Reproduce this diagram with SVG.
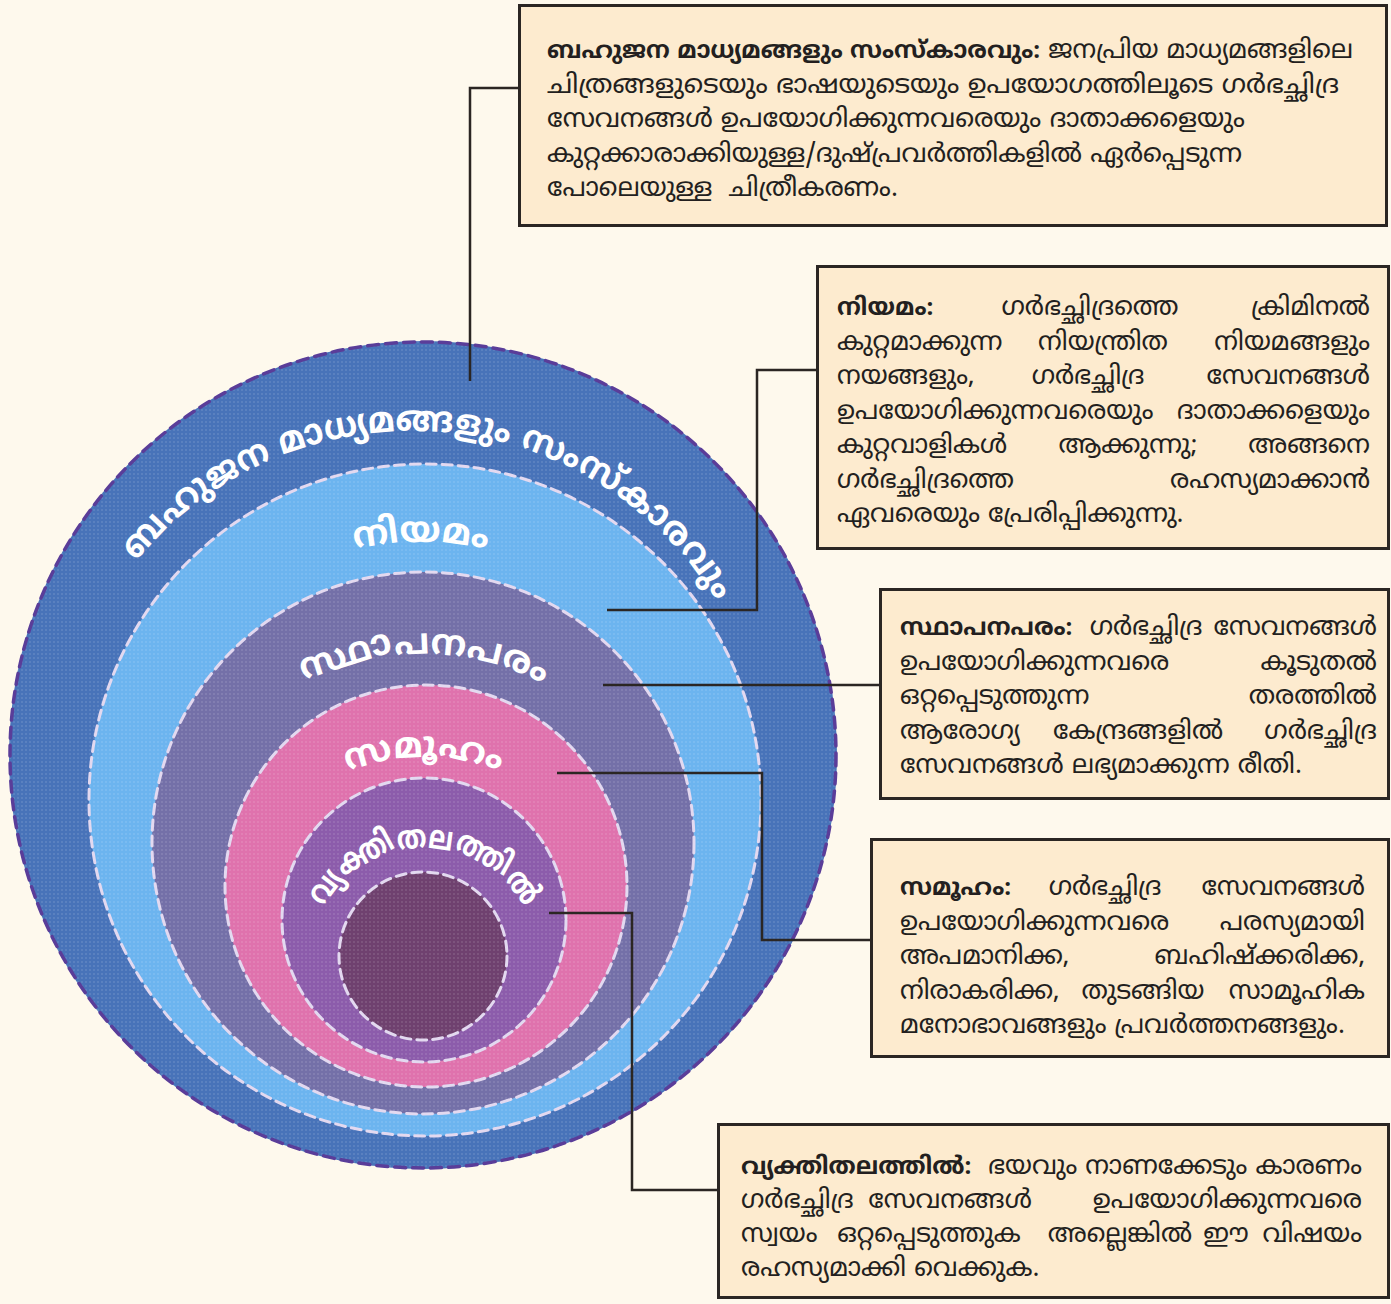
<svg xmlns="http://www.w3.org/2000/svg" width="1391" height="1304" viewBox="0 0 1391 1304">
<defs>
<style>
.bg{fill:#fef9ed}
.box{fill:#fdebcf;stroke:#2b2623;stroke-width:3}
.t{font-family:'Noto Sans Malayalam','Manjari','Meera','Noto Sans','DejaVu Sans',sans-serif;font-size:26px;fill:#231f20}
.b{font-weight:700;font-size:24px}
.e{text-anchor:end}
.m{text-anchor:middle}
.lbl{font-family:'Noto Sans Malayalam','Manjari','Noto Sans','DejaVu Sans',sans-serif;font-weight:700;fill:#ffffff;font-size:36px;text-anchor:middle}
.ring{fill:none;stroke:#e3d9f0;stroke-width:3;stroke-dasharray:10 6;stroke-linecap:round}
.outer{fill:none;stroke:#5a3d99;stroke-width:3.5;stroke-dasharray:11 7;stroke-linecap:round}
.dots{fill:url(#dots)}
.con{fill:none;stroke:#2b2623;stroke-width:2.5}
</style>
<pattern id="dots" width="4" height="4" patternUnits="userSpaceOnUse"><circle cx="2" cy="2" r="0.8" fill="#ffffff" fill-opacity="0.22"/></pattern>
<path id="p1" d="M55,788 A357,357 0 0 1 769,788"/>
<path id="p2" d="M101,862 A320,320 0 0 1 741,862"/>
<path id="p3" d="M174,904 A250,250 0 0 1 674,904"/>
<path id="p4" d="M224,957 A200,200 0 0 1 624,957"/>
<path id="p5" d="M310,962 A114,114 0 0 1 538,962"/>
</defs>
<rect class="bg" x="0" y="0" width="1391" height="1304"/>

<g id="ring-media">
<circle cx="423" cy="755" r="414" fill="#4873b9"/>
<circle cx="423" cy="755" r="414" class="dots"/>
<circle cx="423" cy="755" r="413" class="outer"/>
<text class="lbl" style="font-size:36px"><textPath href="#p1" startOffset="52.2%" textLength="680" lengthAdjust="spacingAndGlyphs">ബഹുജന മാധ്യമങ്ങളും സംസ്കാരവും</textPath></text>
</g>
<g id="ring-law">
<circle cx="425" cy="800" r="336" fill="#6cb4ef"/>
<circle cx="425" cy="800" r="336" class="dots"/>
<circle cx="425" cy="800" r="336" class="ring"/>
<text class="lbl"><textPath href="#p2" startOffset="50%">നിയമം</textPath></text>
</g>
<g id="ring-institution">
<circle cx="423" cy="843" r="271" fill="#7470a8"/>
<circle cx="423" cy="843" r="271" class="dots"/>
<circle cx="423" cy="843" r="271" class="ring"/>
<text class="lbl"><textPath href="#p3" startOffset="50%">സ്ഥാപനപരം</textPath></text>
</g>
<g id="ring-community">
<circle cx="426" cy="886" r="201" fill="#df72ad"/>
<circle cx="426" cy="886" r="201" class="dots"/>
<circle cx="426" cy="886" r="201" class="ring"/>
<text class="lbl"><textPath href="#p4" startOffset="50%">സമൂഹം</textPath></text>
</g>
<g id="ring-individual">
<circle cx="424" cy="920" r="142" fill="#8c5cab"/>
<circle cx="424" cy="920" r="142" class="dots"/>
<circle cx="424" cy="920" r="142" class="ring"/>
<text class="lbl" style="font-size:33px"><textPath href="#p5" startOffset="50%" textLength="245" lengthAdjust="spacingAndGlyphs">വ്യക്തിതലത്തിൽ</textPath></text>
</g>
<g id="core">
<circle cx="423" cy="956" r="84" fill="#6f416f"/>
<circle cx="423" cy="956" r="84" class="dots"/>
<circle cx="423" cy="956" r="84" class="ring"/>
</g>

<g id="connectors">
<path class="con" d="M520,88 H470 V381"/>
<path class="con" d="M818,370 H757 V610 H607"/>
<path class="con" d="M881,685 H603"/>
<path class="con" d="M872,940 H762 V773 H557"/>
<path class="con" d="M719,1190 H632 V913 H549"/>
</g>

<g id="box-media">
<rect class="box" x="519.5" y="5.5" width="867" height="220"/>
<text class="t" x="547" y="58" textLength="806" lengthAdjust="spacingAndGlyphs"><tspan class="b">ബഹുജന മാധ്യമങ്ങളും സംസ്കാരവും:</tspan> ജനപ്രിയ മാധ്യമങ്ങളിലെ</text>
<text class="t" x="547" y="92.5" textLength="792" lengthAdjust="spacingAndGlyphs">ചിത്രങ്ങളുടെയും ഭാഷയുടെയും ഉപയോഗത്തിലൂടെ ഗർഭച്ഛിദ്ര</text>
<text class="t" x="547" y="127" textLength="698" lengthAdjust="spacingAndGlyphs">സേവനങ്ങൾ ഉപയോഗിക്കുന്നവരെയും ദാതാക്കളെയും</text>
<text class="t" x="547" y="161.5" textLength="695" lengthAdjust="spacingAndGlyphs">കുറ്റക്കാരാക്കിയുള്ള/ദുഷ്പ്രവർത്തികളിൽ ഏർപ്പെടുന്ന</text>
<text class="t" x="547" y="196" xml:space="preserve">പോലെയുള്ള  ചിത്രീകരണം.</text>
</g>

<g id="box-law">
<rect class="box" x="817.5" y="266.5" width="571" height="282"/>
<text class="t" y="315"><tspan class="b" x="837">നിയമം:</tspan><tspan class="m" x="1090">ഗർഭച്ഛിദ്രത്തെ</tspan><tspan class="e" x="1370">ക്രിമിനൽ</tspan></text>
<text class="t" y="349.5"><tspan x="837">കുറ്റമാക്കുന്ന</tspan><tspan class="m" x="1103">നിയന്ത്രിത</tspan><tspan class="e" x="1370">നിയമങ്ങളും</tspan></text>
<text class="t" y="384"><tspan x="837">നയങ്ങളും,</tspan><tspan class="m" x="1088">ഗർഭച്ഛിദ്ര</tspan><tspan class="e" x="1370">സേവനങ്ങൾ</tspan></text>
<text class="t" y="418.5"><tspan x="837">ഉപയോഗിക്കുന്നവരെയും</tspan><tspan class="e" x="1370">ദാതാക്കളെയും</tspan></text>
<text class="t" y="453"><tspan x="837">കുറ്റവാളികൾ</tspan><tspan class="m" x="1128">ആക്കുന്നു;</tspan><tspan class="e" x="1370">അങ്ങനെ</tspan></text>
<text class="t" y="487.5"><tspan x="837">ഗർഭച്ഛിദ്രത്തെ</tspan><tspan class="e" x="1370">രഹസ്യമാക്കാൻ</tspan></text>
<text class="t" x="837" y="522">ഏവരെയും പ്രേരിപ്പിക്കുന്നു.</text>
</g>

<g id="box-institution">
<rect class="box" x="880.5" y="589.5" width="508" height="209"/>
<text class="t" y="635"><tspan class="b" x="900">സ്ഥാപനപരം:</tspan><tspan class="m" x="1146">ഗർഭച്ഛിദ്ര</tspan><tspan class="e" x="1377">സേവനങ്ങൾ</tspan></text>
<text class="t" y="669.5"><tspan x="900">ഉപയോഗിക്കുന്നവരെ</tspan><tspan class="e" x="1377">കൂടുതൽ</tspan></text>
<text class="t" y="704"><tspan x="900">ഒറ്റപ്പെടുത്തുന്ന</tspan><tspan class="e" x="1377">തരത്തിൽ</tspan></text>
<text class="t" y="738.5"><tspan x="900">ആരോഗ്യ</tspan><tspan class="m" x="1138">കേന്ദ്രങ്ങളിൽ</tspan><tspan class="e" x="1377">ഗർഭച്ഛിദ്ര</tspan></text>
<text class="t" x="900" y="773">സേവനങ്ങൾ ലഭ്യമാക്കുന്ന രീതി.</text>
</g>

<g id="box-community">
<rect class="box" x="871.5" y="839.5" width="517" height="217"/>
<text class="t" y="895"><tspan class="b" x="900">സമൂഹം:</tspan><tspan class="m" x="1105">ഗർഭച്ഛിദ്ര</tspan><tspan class="e" x="1365">സേവനങ്ങൾ</tspan></text>
<text class="t" y="929.5"><tspan x="900">ഉപയോഗിക്കുന്നവരെ</tspan><tspan class="e" x="1365">പരസ്യമായി</tspan></text>
<text class="t" y="964"><tspan x="900">അപമാനിക്ക,</tspan><tspan class="e" x="1365">ബഹിഷ്ക്കരിക്ക,</tspan></text>
<text class="t" y="998.5"><tspan x="900">നിരാകരിക്ക,</tspan><tspan class="m" x="1143">തുടങ്ങിയ</tspan><tspan class="e" x="1365">സാമൂഹിക</tspan></text>
<text class="t" x="900" y="1033">മനോഭാവങ്ങളും പ്രവർത്തനങ്ങളും.</text>
</g>

<g id="box-individual">
<rect class="box" x="718.5" y="1124.5" width="670" height="173"/>
<text class="t" y="1174"><tspan class="b" x="741">വ്യക്തിതലത്തിൽ:</tspan><tspan class="e" x="1362">ഭയവും നാണക്കേടും കാരണം</tspan></text>
<text class="t" y="1208"><tspan x="741">ഗർഭച്ഛിദ്ര</tspan><tspan class="m" x="950">സേവനങ്ങൾ</tspan><tspan class="e" x="1362">ഉപയോഗിക്കുന്നവരെ</tspan></text>
<text class="t" y="1242"><tspan x="741">സ്വയം</tspan><tspan class="m" x="929">ഒറ്റപ്പെടുത്തുക</tspan><tspan class="m" x="1120">അല്ലെങ്കിൽ</tspan><tspan class="m" x="1226">ഈ</tspan><tspan class="e" x="1362">വിഷയം</tspan></text>
<text class="t" x="741" y="1276">രഹസ്യമാക്കി വെക്കുക.</text>
</g>
</svg>
